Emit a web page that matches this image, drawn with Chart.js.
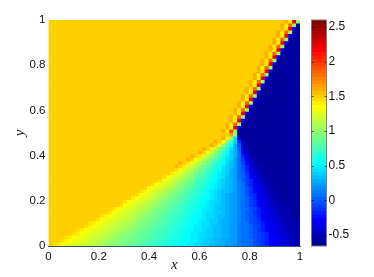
<!DOCTYPE html>
<html>
<head>
<meta charset="utf-8">
<title>x y field</title>
<style>
  body { margin: 0; background: #fff; overflow: hidden; }
  canvas { position: absolute; left: 0; top: 0; }
</style>
<script src="https://cdn.jsdelivr.net/npm/chart.js@4/dist/chart.umd.min.js"></script>
</head>
<body>
<canvas id="field" width="374" height="277"></canvas>
<canvas id="colorbar" width="374" height="277"></canvas>
<script>
// tick labels
const x_ticks = [0, 0.2, 0.4, 0.6, 0.8, 1]
const y_ticks = [0, 0.2, 0.4, 0.6, 0.8, 1]
const cb_ticks = [-0.5, 0, 0.5, 1, 1.5, 2, 2.5]

// colour limits
const c_min = -0.66
const c_max = 2.6
const n_levels = 64

// colormap level of each cell, top row first. "43*60" means 60 cells of level 43,
// a short row carries on with its last level
const rows_upper = [
  "43*60 45 41 57 33",
  "43*59 45 41 50 33 2",
  "43*59 45 41 57 8 2",
  "43*58 45 41 50 33 2",
  "43*58 45 41 57 8 2",
  "43*57 45 41 50 33 2",
  "43*57 45 41 57 8 2",
  "43*56 45 41 50 33 2",
  "43*56 45 41 57 8 2",
  "43*55 45 41 50 33 2",
  "43*55 45 41 57 8 2",
  "43*54 45 41 50 33 2",
  "43*54 45 41 57 8 2",
  "43*53 45 41 50 33 2",
  "43*53 45 41 57 8 2",
  "43*52 45 41 50 33 2",
  "43*52 45 41 57 8 2",
  "43*51 45 41 50 33 2",
  "43*51 45 41 57 8 2",
  "43*50 45 41 50 33 2",
  "43*50 45 41 57 8 2",
  "43*49 45 41 50 33 2",
  "43*49 45 41 57 8 2",
  "43*48 45 41 50 33 2",
  "43*48 45 41 57 8 2",
  "43*47 45 41 50 33 2",
  "43*47 45 41 57 8 2",
  "43*46 45 41 50 33 2",
  "43*46 45 41 57 8 2",
  "43*45 45 41 50 33 2",
  "43*45 45 41 57 8 2",
  "43*44 45 41 52 33 2",
]

const rows_lower = [
  "43*46 46 33 2",
  "43*44 45 41 33 22 7 2",
  "43*42 45 43 40 33 27 21 11 3 2",
  "43*41 45 43 38 33 28 24 19 13 5 2",
  "43*39 45 43 41 37 33 29 26 22 19 14 7 3 2",
  "43*38 45 43 39 36 33 30 27 24 21 19 15 8 4 2",
  "43*36 45 43 42 38 36 33 30 28 26 23 21 19 15 10 6 3 2",
  "43*35 45 43 40 38 35 33 31 29 27 24 22 21 18 15 11 7 4 3 2",
  "43*33 45 43 42 39 37 35 33 31 29 27 25 24 22 20 18 15 12 8 5 3 2",
  "43*32 44 43 41 38 37 35 33 31 30 28 26 25 23 21 20 18 15 13 10 6 4 3 2",
  "43*32 42 39 38 36 35 33 31 30 28 27 25 24 22 21 19 18 15 13 10 7 5 3 2",
  "43*31 41 39 38 36 35 33 31 30 29 27 26 25 23 22 21 19 18 15 14 11 7 5 4 3 2",
  "43*29 42 40 38 37 36 35 33 32 30 29 28 27 25 24 23 22 20 19 18 15 14 12 8 7 5 3 3 2",
  "43*28 42 39 38 37 36 35 33 32 31 29 28 27 26 25 24 22 21 20 19 18 16 14 12 10 7 5 4 3 2",
  "43*26 42 40 39 38 37 36 34 33 32 31 30 28 27 27 25 24 23 22 21 20 19 18 16 15 12 10 7 6 5 3 3 2",
  "43*25 41 39 38 38 36 36 35 33 32 31 30 29 28 27 26 25 24 23 22 21 20 19 18 16 15 13 11 8 7 5 4 3 2",
  "43*23 42 41 39 38 37 36 36 34 33 32 31 30 29 28 27 26 25 24 23 22 21 20 20 19 18 16 15 13 11 8 7 6 4 3 3 2",
  "43*22 42 40 39 38 37 36 35 34 33 32 31 30 29 28 27 27 26 25 24 23 22 21 20 19 18 18 16 15 13 11 10 7 6 5 4 3 3 2",
  "43*21 41 40 38 38 37 36 35 34 33 32 31 31 29 29 28 27 26 25 24 24 23 22 21 20 19 18 18 16 15 14 12 10 7 7 5 4 3 3 2",
  "43*19 42 40 39 38 38 37 36 35 34 33 32 31 30 30 29 28 27 26 26 25 24 23 22 22 21 20 19 18 18 16 15 14 12 11 8 7 6 5 3 3 3 2",
  "43*18 42 40 39 38 37 36 36 35 34 33 32 31 31 30 29 28 27 27 26 25 24 24 23 22 21 21 20 19 18 18 16 15 14 12 11 8 7 6 5 4 3 3 3 2",
  "43*16 42 40 39 38 38 37 36 36 35 34 33 32 31 31 30 29 28 28 27 26 26 25 24 23 23 22 21 20 20 19 18 18 16 15 15 13 12 10 7 7 6 5 3 3 3 2",
  "43*15 42 40 39 38 38 37 36 35 35 34 33 32 31 31 30 29 29 28 27 27 26 25 24 24 23 22 22 21 21 20 19 18 18 16 15 14 13 11 10 8 7 6 5 4 3 3 3 2",
  "43*13 42 41 40 39 38 38 37 36 36 35 34 33 32 32 31 30 29 29 28 27 27 26 26 25 24 24 23 22 22 21 20 20 19 18 18 16 15 14 13 12 10 8 7 7 5 5 3 3 3 2",
  "43*12 42 40 39 38 38 37 37 36 36 35 34 33 32 32 31 31 30 29 28 28 27 26 26 25 24 24 23 23 22 21 21 20 19 19 18 18 16 15 14 13 12 11 8 7 7 6 5 4 3 3 3 2",
  "43*10 42 41 40 39 38 38 37 36 36 35 35 34 33 32 32 31 30 30 29 29 28 27 27 26 26 25 24 24 23 22 22 21 21 20 19 19 18 18 16 15 15 13 12 11 10 8 7 6 5 5 3 3 3 3",
  "43*9 42 41 40 39 38 38 37 36 36 35 35 34 33 32 32 31 31 30 29 29 28 27 27 26 26 25 25 24 23 23 22 22 21 20 20 19 19 18 18 16 15 15 14 12 12 10 8 7 7 6 5 4 3 3 3",
  "43*7 42 41 40 39 38 38 38 37 36 36 35 35 34 33 33 32 31 31 30 29 29 28 28 27 27 26 25 25 24 24 23 23 22 21 21 20 20 19 19 18 18 16 15 15 14 13 11 10 8 7 7 6 5 4 3 3 3",
  "43*6 42 41 40 39 38 38 37 37 36 36 35 34 33 33 32 32 31 31 30 30 29 28 28 27 27 26 26 25 25 24 23 23 22 22 21 21 20 20 19 19 18 18 16 15 15 14 13 12 11 10 7 7 6 5 5 4 3 3",
  "43*4 42 41 40 39 39 38 38 37 37 36 36 35 34 33 33 32 32 31 31 30 30 29 29 28 28 27 26 26 25 25 24 24 23 23 22 22 21 21 20 20 19 19 18 18 16 15 15 14 13 12 11 10 8 7 7 6 5 4 3 3",
  "43*3 42 41 40 39 39 38 38 37 36 36 35 35 34 33 33 32 32 31 31 31 30 29 29 28 28 27 27 26 26 25 25 24 24 23 23 22 21 21 20 20 19 19 18 18 18 16 15 15 15 13 12 11 10 8 7 7 6 5 5 4 3",
  "43 42 41 40 39 39 38 38 37 37 36 36 35 35 34 33 33 32 32 31 31 30 30 29 29 28 28 27 27 26 26 25 25 24 24 23 23 22 22 21 21 20 20 19 19 18 18 17 16 15 15 14 13 12 11 10 8 7 7 6 5 5 4 3",
]

const n_cols = 64

// squares overlap so the background never shows between them, nudge makes up for it
const nudge_x = 0.0022
const nudge_y = 0.0033

// matlab jet, level 1 to 64
function jet(k) {
  const clamp = v => Math.round(255 * Math.max(0, Math.min(1, v)))
  const r = Math.min((k - 24) / 16, (72 - k) / 16)
  const g = Math.min((k - 8) / 16, (56 - k) / 16)
  const b = Math.min((k + 8) / 16, (40 - k) / 16)
  return `rgb(${clamp(r)},${clamp(g)},${clamp(b)})`
}

function expandRow(row) {
  let cells = []
  row.split(' ').forEach(token => {
    let parts = token.split('*')
    let count = parts.length > 1 ? Number(parts[1]) : 1
    for (let i = 0; i < count; i++) cells.push(Number(parts[0]))
  })
  while (cells.length < n_cols) cells.push(cells[cells.length - 1])
  return cells
}

const all_rows = rows_upper.concat(rows_lower).map(expandRow)
const n_rows = all_rows.length

let field_points = []
let field_colors = []
all_rows.forEach((cells, j) => {
  cells.forEach((level, i) => {
    field_points.push({x: (i + 0.5) / n_cols + nudge_x, y: 1 - (j + 0.5) / n_rows - nudge_y})
    field_colors.push(jet(level))
  })
})

Chart.defaults.font.family = '"Liberation Sans", sans-serif'
Chart.defaults.font.size = 11.5
Chart.defaults.color = '#111'
Chart.defaults.animation = false
Chart.defaults.plugins.legend.display = false
Chart.defaults.plugins.tooltip.enabled = false

const title_font = {family: '"Liberation Serif", serif', style: 'italic', size: 15}

new Chart('field', {
  type: 'scatter',
  data: {
    datasets: [{
      data: field_points,
      backgroundColor: field_colors,
      pointStyle: 'rect',
      pointRadius: 3.56,
      pointBorderWidth: 0,
    }]
  },
  options: {
    responsive: false,
    events: [],
    layout: {autoPadding: false, padding: {left: 0, right: 74, top: 20, bottom: 0}},
    scales: {
      x: {
        type: 'linear',
        min: 0,
        max: 1,
        afterBuildTicks: s => { s.ticks = x_ticks.map(v => ({value: v})) },
        afterFit: s => { s.height = 31 },
        grid: {display: false, drawTicks: false},
        border: {color: 'rgba(0,40,60,0.8)', z: 1},
        ticks: {padding: 4, maxRotation: 0, callback: v => String(v)},
        title: {display: true, text: 'x', font: title_font, padding: {top: 0, bottom: 3}},
      },
      y: {
        type: 'linear',
        min: 0,
        max: 1,
        afterBuildTicks: s => { s.ticks = y_ticks.map(v => ({value: v})) },
        afterFit: s => { s.width = 48.5 },
        grid: {display: false, drawTicks: false},
        border: {display: false},
        ticks: {padding: 3, callback: v => String(v)},
        title: {display: true, text: 'y', font: title_font, padding: {top: 11, bottom: 0}},
      }
    }
  }
})

// colorbar, each level painted from its lower edge to the top so no seams show.
// chart.js paints the last dataset first, so the list runs from top level to bottom level
let cb_datasets = []
for (let k = n_levels; k >= 1; k--) {
  cb_datasets.push({
    data: [[c_min + (k - 1) * (c_max - c_min) / n_levels, c_max]],
    backgroundColor: jet(k),
    grouped: false,
    barPercentage: 1,
    categoryPercentage: 1,
    borderWidth: 0,
    borderSkipped: false,
  })
}

const cb_frame = {
  id: 'cb_frame',
  afterDraw(chart) {
    let {ctx, chartArea: a, scales} = chart
    ctx.save()
    ctx.strokeStyle = '#7d7d7d'
    ctx.lineWidth = 1
    ctx.strokeRect(a.left, a.top, a.right - a.left, a.bottom - a.top)
    ctx.strokeStyle = 'rgba(0,0,0,0.6)'
    ctx.beginPath()
    cb_ticks.forEach(v => {
      let y = Math.round(scales.y.getPixelForValue(v)) + 0.5
      ctx.moveTo(a.left, y)
      ctx.lineTo(a.left + 2, y)
      ctx.moveTo(a.right - 2, y)
      ctx.lineTo(a.right, y)
    })
    ctx.stroke()
    ctx.restore()
  }
}

new Chart('colorbar', {
  type: 'bar',
  data: {labels: [''], datasets: cb_datasets},
  plugins: [cb_frame],
  options: {
    responsive: false,
    events: [],
    layout: {autoPadding: false, padding: {left: 311.5, right: 0, top: 20, bottom: 31}},
    scales: {
      x: {display: false},
      y: {
        type: 'linear',
        position: 'right',
        min: c_min,
        max: c_max,
        afterBuildTicks: s => { s.ticks = cb_ticks.map(v => ({value: v})) },
        afterFit: s => { s.width = 47.5 },
        grid: {display: false, drawTicks: false},
        border: {display: false},
        ticks: {padding: 2, font: {size: 12}, callback: v => String(v)},
      }
    }
  }
})
</script>
</body>
</html>
